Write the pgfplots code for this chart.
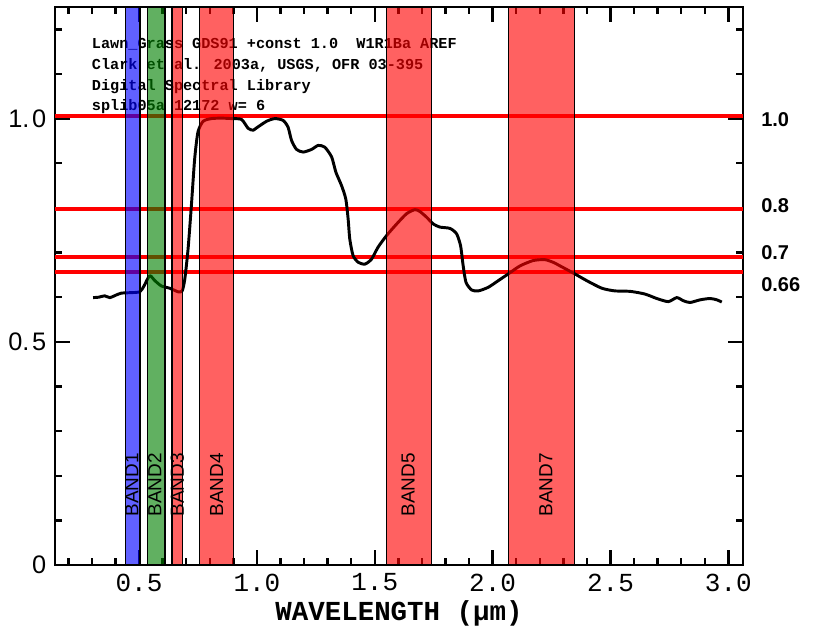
\documentclass[border=0pt]{standalone}
\usepackage{fontspec}
\setmainfont{Liberation Sans}
\newfontfamily\mono{Liberation Mono}
\usepackage{pgfplots}
\pgfplotsset{compat=1.18}
\definecolor{bandgreen}{RGB}{0,128,0}

\begin{document}
\begin{tikzpicture}
\begin{axis}[
  name=ax,
  scale only axis,
  width=516pt, height=418.5pt,
  xmin=0.1435, xmax=3.062,
  ymin=0, ymax=1.25,
  axis line style={line width=2pt},
  tick align=inside,
  tick pos=both,
  xtick={0.5,1,1.5,2,2.5,3},
  xticklabels={0.5,1.0,1.5,2.0,2.5,3.0},
  minor xtick={0.2,0.3,0.4,0.6,0.7,0.8,0.9,1.1,1.2,1.3,1.4,1.6,1.7,1.8,1.9,2.1,2.2,2.3,2.4,2.6,2.7,2.8,2.9},
  ytick={0,0.5,1},
  yticklabels={0,0.\hspace{2pt}5,1.\hspace{2pt}0},
  minor ytick={0.1,0.2,0.3,0.4,0.6,0.7,0.8,0.9,1.1,1.2},
  major tick length=11pt,
  minor tick length=5pt,
  every tick/.style={black, line width=1.8pt},
  xticklabel style={font=\mono\fontsize{19.5}{20}\selectfont, yshift=-3pt},
  yticklabel style={font=\fontsize{19}{20}\selectfont, xshift=-3pt},
  xlabel={WAVELENGTH (μm)},
  xlabel style={font=\mono\bfseries\fontsize{20.6}{22}\selectfont},
  clip=false,
]

% header text of the spectral library record
\node[anchor=base west, inner sep=0, font=\mono\bfseries\fontsize{11.4}{12}\selectfont] at (axis cs:0.299,1.157) {Lawn\_Grass GDS91 +const 1.0\ \ W1R1Ba AREF};
\node[anchor=base west, inner sep=0, font=\mono\bfseries\fontsize{11.4}{12}\selectfont] at (axis cs:0.299,1.111) {Clark et al. 2003a, USGS, OFR 03-395};
\node[anchor=base west, inner sep=0, font=\mono\bfseries\fontsize{11.4}{12}\selectfont] at (axis cs:0.299,1.064) {Digital Spectral Library};
\node[anchor=base west, inner sep=0, font=\mono\bfseries\fontsize{11.4}{12}\selectfont] at (axis cs:0.299,1.018) {splib05a 12172 w= 6};

% reference levels
\addplot[red, line width=3pt, forget plot] coordinates {(0.1435,1.005) (3.062,1.005)};
\addplot[red, line width=3pt, forget plot] coordinates {(0.1435,0.797) (3.062,0.797)};
\addplot[red, line width=3pt, forget plot] coordinates {(0.1435,0.690) (3.062,0.690)};
\addplot[red, line width=3pt, forget plot] coordinates {(0.1435,0.656) (3.062,0.656)};

% lawn grass reflectance
\addplot[black, line width=2.2pt, line join=round, smooth, tension=0.4] coordinates {
(0.305,0.599) (0.33,0.600) (0.354,0.603) (0.376,0.599) (0.404,0.605) (0.425,0.609)
(0.46,0.610) (0.503,0.612) (0.521,0.625) (0.545,0.648) (0.567,0.637) (0.595,0.625)
(0.630,0.620) (0.666,0.612) (0.683,0.614) (0.694,0.640) (0.708,0.708) (0.722,0.805)
(0.736,0.910) (0.750,0.970) (0.772,0.994) (0.807,1.000) (0.850,1.001) (0.892,1.000)
(0.935,0.998) (0.963,0.978) (0.984,0.974) (0.998,0.979) (1.041,0.994) (1.076,1.000)
(1.111,0.996) (1.132,0.981) (1.147,0.951) (1.168,0.931) (1.196,0.925) (1.232,0.931)
(1.260,0.940) (1.288,0.936) (1.317,0.914) (1.335,0.880) (1.359,0.850) (1.377,0.820)
(1.387,0.775) (1.394,0.730) (1.408,0.693) (1.430,0.678) (1.458,0.674) (1.486,0.685)
(1.514,0.712) (1.550,0.738) (1.593,0.764) (1.635,0.787) (1.670,0.796) (1.691,0.792)
(1.720,0.779) (1.748,0.764) (1.776,0.757) (1.819,0.754) (1.847,0.742) (1.864,0.715)
(1.875,0.670) (1.887,0.633) (1.911,0.616) (1.939,0.614) (1.981,0.622) (2.024,0.637)
(2.066,0.652) (2.116,0.670) (2.172,0.682) (2.222,0.684) (2.257,0.678) (2.286,0.670)
(2.349,0.652) (2.399,0.637) (2.463,0.620) (2.519,0.614) (2.583,0.613) (2.646,0.607)
(2.696,0.597) (2.745,0.590) (2.781,0.599) (2.809,0.592) (2.837,0.588) (2.880,0.594)
(2.922,0.597) (2.951,0.594) (2.972,0.589)};

% Landsat TM bands
\addplot[draw=black, line width=0.9pt, fill=blue, fill opacity=0.62] coordinates {(0.441,0) (0.441,1.25) (0.504,1.25) (0.504,0)} -- cycle;
\addplot[draw=black, line width=0.9pt, fill=bandgreen, fill opacity=0.62] coordinates {(0.536,0) (0.536,1.25) (0.610,1.25) (0.610,0)} -- cycle;
\addplot[draw=black, line width=0.9pt, fill=red, fill opacity=0.62] coordinates {(0.640,0) (0.640,1.25) (0.683,1.25) (0.683,0)} -- cycle;
\addplot[draw=black, line width=0.9pt, fill=red, fill opacity=0.62] coordinates {(0.755,0) (0.755,1.25) (0.901,1.25) (0.901,0)} -- cycle;
\addplot[draw=black, line width=0.9pt, fill=red, fill opacity=0.62] coordinates {(1.550,0) (1.550,1.25) (1.739,1.25) (1.739,0)} -- cycle;
\addplot[draw=black, line width=0.9pt, fill=red, fill opacity=0.62] coordinates {(2.068,0) (2.068,1.25) (2.348,1.25) (2.348,0)} -- cycle;

\node[rotate=90, anchor=west, inner sep=0, font=\fontsize{14.2}{15}\selectfont] at (axis cs:0.470,0.1085) {BAND1};
\node[rotate=90, anchor=west, inner sep=0, font=\fontsize{14.2}{15}\selectfont] at (axis cs:0.567,0.1085) {BAND2};
\node[rotate=90, anchor=west, inner sep=0, font=\fontsize{14.2}{15}\selectfont] at (axis cs:0.663,0.1085) {BAND3};
\node[rotate=90, anchor=west, inner sep=0, font=\fontsize{14.2}{15}\selectfont] at (axis cs:0.829,0.1085) {BAND4};
\node[rotate=90, anchor=west, inner sep=0, font=\fontsize{14.2}{15}\selectfont] at (axis cs:1.642,0.1085) {BAND5};
\node[rotate=90, anchor=west, inner sep=0, font=\fontsize{14.2}{15}\selectfont] at (axis cs:2.226,0.1085) {BAND7};

% level labels on the right
\node[anchor=west, inner sep=0, xshift=13.5pt, font=\bfseries\fontsize{15}{16}\selectfont] at (axis cs:3.062,0.998) {1.0};
\node[anchor=west, inner sep=0, xshift=13.5pt, font=\bfseries\fontsize{15}{16}\selectfont] at (axis cs:3.062,0.804) {0.8};
\node[anchor=west, inner sep=0, xshift=13.5pt, font=\bfseries\fontsize{15}{16}\selectfont] at (axis cs:3.062,0.700) {0.7};
\node[anchor=west, inner sep=0, xshift=13.5pt, font=\bfseries\fontsize{15}{16}\selectfont] at (axis cs:3.062,0.629) {0.66};
\end{axis}
\pgfresetboundingbox
\path[use as bounding box] ([xshift=-41.25pt,yshift=-57.75pt]ax.south west) rectangle ([xshift=54.75pt,yshift=5.25pt]ax.north east);
\end{tikzpicture}
\end{document}
